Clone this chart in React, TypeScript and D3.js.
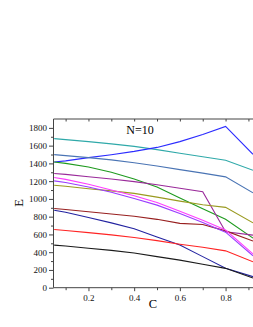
import React, { useEffect, useRef } from 'react';
import * as d3 from 'd3';

const WIDTH = 253;
const HEIGHT = 327;

const MARGIN = {
  top: 119,
  left: 53.5,
  bottom: 39.3,
};

const C = [0.05, 0.1, 0.2, 0.3, 0.4, 0.5, 0.6, 0.7, 0.8, 0.92];

const teal = [1679, 1668, 1645, 1620, 1592, 1555, 1515, 1475, 1435, 1323];
const blue = [1416, 1428, 1465, 1498, 1535, 1580, 1645, 1725, 1817, 1503];
const steel = [1499, 1488, 1465, 1440, 1408, 1370, 1330, 1290, 1248, 1068];
const green = [1416, 1400, 1360, 1300, 1225, 1135, 1010, 890, 770, 558];
const purple = [1286, 1276, 1250, 1225, 1195, 1160, 1120, 1082, 630, 592];
const magenta = [1241, 1220, 1165, 1100, 1035, 960, 860, 760, 650, 380];
const violet = [1203, 1185, 1135, 1075, 1005, 930, 835, 735, 625, 360];
const olive = [1154, 1143, 1115, 1090, 1062, 1020, 975, 935, 905, 730];
const maroon = [892, 880, 855, 830, 805, 770, 725, 712, 640, 525];
const darkBlue = [873, 850, 790, 730, 665, 570, 480, 350, 218, 124];
const red = [656, 645, 620, 595, 565, 530, 490, 455, 415, 292];
const black = [480, 470, 445, 420, 390, 350, 311, 265, 218, 109];

const SERIES = [
  { values: teal, color: '#2fa9a9' },
  { values: blue, color: '#2b2bff' },
  { values: steel, color: '#4a74b4' },
  { values: green, color: '#1e9a1e' },
  { values: purple, color: '#9a2a9a' },
  { values: olive, color: '#9a9a20' },
  { values: maroon, color: '#982020' },
  { values: darkBlue, color: '#2222a0' },
  { values: red, color: '#ff2424' },
  { values: black, color: '#1a1a1a' },
  { values: violet, color: '#9a3cff' },
  { values: magenta, color: '#ff3cff' },
];

const Y_TICKS = [0, 200, 400, 600, 800, 1000, 1200, 1400, 1600, 1800];
const X_TICKS = [0.2, 0.4, 0.6, 0.8];
const FONT = '"Liberation Serif", "Times New Roman", serif';

export default function App() {
  const ref = useRef<SVGSVGElement>(null);

  useEffect(() => {
    const svg = d3.select(ref.current);
    svg.selectAll('*').remove();

    const x = d3.scaleLinear()
      .domain([0.047, 0.92])
      .range([MARGIN.left, WIDTH]);

    const y = d3.scaleLinear()
      .domain([0, 1900])
      .range([HEIGHT - MARGIN.bottom, MARGIN.top]);

    const line = d3.line<number>()
      .x((_, i) => x(C[i]))
      .y(d => y(d));

    svg.selectAll('.series')
      .data(SERIES)
      .enter()
      .append('path')
      .attr('d', d => line(d.values))
      .attr('fill', 'none')
      .attr('stroke', d => d.color)
      .attr('stroke-width', 1.1);

    // y axis, minor ticks every 100
    const yMinor = d3.range(100, 1900, 200);
    svg.append('g')
      .attr('transform', `translate(${MARGIN.left}, 0)`)
      .call(d3.axisLeft(y).tickValues(yMinor).tickSize(2.5).tickFormat(() => ''))
      .call(g => g.select('.domain').remove());

    svg.append('g')
      .attr('transform', `translate(${MARGIN.left}, 0)`)
      .call(d3.axisLeft(y).tickValues(Y_TICKS).tickSize(4.5).tickSizeOuter(0).tickPadding(2).tickFormat(d3.format('d')))
      .call(g => g.select('.domain').attr('d', `M0,${y(0)}V${MARGIN.top}`));

    // x axis
    const xMinor = [0.1, 0.3, 0.5, 0.7, 0.9];
    svg.append('g')
      .attr('transform', `translate(0, ${y(0)})`)
      .call(d3.axisBottom(x).tickValues(xMinor).tickSize(2.5).tickFormat(() => ''))
      .call(g => g.select('.domain').remove());

    svg.append('g')
      .attr('transform', `translate(0, ${y(0)})`)
      .call(d3.axisBottom(x).tickValues(X_TICKS).tickSize(3.5).tickSizeOuter(0).tickPadding(3).tickFormat(d3.format('.1f')))
      .call(g => g.select('.domain').attr('d', `M${MARGIN.left},0H${WIDTH}`));

    // top frame with inward ticks
    svg.append('g')
      .attr('transform', `translate(0, ${MARGIN.top})`)
      .call(d3.axisTop(x).tickValues([...X_TICKS, ...xMinor]).tickSize(-2.5).tickFormat(() => ''))
      .call(g => g.select('.domain').attr('d', `M${MARGIN.left},0H${WIDTH}`));

    svg.selectAll('.domain, .tick line')
      .attr('stroke', '#444')
      .attr('stroke-width', 1);

    svg.selectAll('.tick text')
      .attr('font-family', FONT)
      .attr('font-size', 9)
      .attr('fill', '#111');

    svg.append('text')
      .attr('x', 140)
      .attr('y', 134)
      .attr('text-anchor', 'middle')
      .attr('font-family', FONT)
      .attr('font-size', 12)
      .text('N=10');

    svg.append('text')
      .attr('x', 153)
      .attr('y', 308)
      .attr('text-anchor', 'middle')
      .attr('font-family', FONT)
      .attr('font-size', 12.5)
      .text('C');

    svg.append('text')
      .attr('transform', 'translate(23, 203) rotate(-90)')
      .attr('text-anchor', 'middle')
      .attr('font-family', FONT)
      .attr('font-size', 12.5)
      .text('E');
  }, []);

  return (
    <svg
      ref={ref}
      width={WIDTH}
      height={HEIGHT}
      style={{ position: 'absolute', left: 0, top: 0, background: '#fff' }}
    />
  );
}
